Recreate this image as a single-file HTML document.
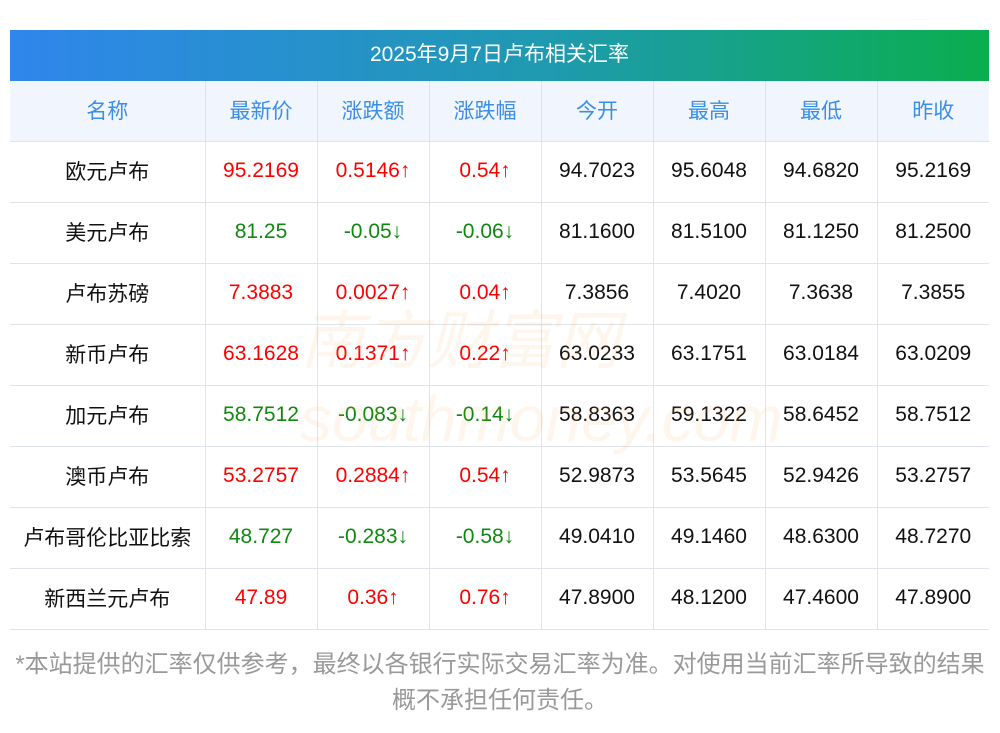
<!DOCTYPE html>
<html><head><meta charset="utf-8">
<style>
body{margin:0;width:1000px;height:733px;background:#fff;overflow:hidden;font-family:"Liberation Sans","Noto Sans CJK SC",sans-serif;position:relative}
#title{position:absolute;left:10px;top:30px;width:979px;height:51px;background:linear-gradient(90deg,#2f86ec,#1f9ab0 55%,#0aae4e);color:#fff;font-size:21px;line-height:49px;text-align:center}
table{position:absolute;left:10px;top:81px;border-collapse:collapse;width:979px;table-layout:fixed}
td,th{border-right:1px solid #dfe4ec;border-bottom:1px solid #dfe4ec;text-align:center;font-size:21px;font-weight:normal;padding:0 0 2px 0;height:58px}
td:last-child,th:last-child{border-right:none}
th{background:#f1f6fe;color:#3a8ee6}
td{color:#111}
.up{color:#f00}.dn{color:#118811}
#note{position:absolute;left:-20px;top:647px;width:1040px;text-align:center;color:#999;font-size:24px;line-height:36px;white-space:nowrap}
#wm{position:absolute;left:300px;top:290px;color:rgba(250,170,100,0.12);font-size:64px;font-style:italic;pointer-events:none}
</style></head><body>
<div id="title">2025年9月7日卢布相关汇率</div>
<table id="t">
<colgroup><col style="width:195px"><col style="width:112px"><col style="width:112px"><col style="width:112px"><col style="width:112px"><col style="width:112px"><col style="width:112px"><col style="width:112px"></colgroup>
<thead><tr>
<th>名称</th>
<th>最新价</th>
<th>涨跌额</th>
<th>涨跌幅</th>
<th>今开</th>
<th>最高</th>
<th>最低</th>
<th>昨收</th>
</tr></thead><tbody id="tb"></tbody></table>
<div id="wm">南方财富网<br>southmoney.com</div>
<div id="note">*本站提供的汇率仅供参考，最终以各银行实际交易汇率为准。对使用当前汇率所导致的结果<br>概不承担任何责任。</div>
<script>
const names=["欧元卢布","美元卢布","卢布苏磅","新币卢布","加元卢布","澳币卢布","卢布哥伦比亚比索","新西兰元卢布"];
const latest=["95.2169","81.25","7.3883","63.1628","58.7512","53.2757","48.727","47.89"];
const change=["0.5146","-0.05","0.0027","0.1371","-0.083","0.2884","-0.283","0.36"];
const changePct=["0.54","-0.06","0.04","0.22","-0.14","0.54","-0.58","0.76"];
const openP=["94.7023","81.1600","7.3856","63.0233","58.8363","52.9873","49.0410","47.8900"];
const highP=["95.6048","81.5100","7.4020","63.1751","59.1322","53.5645","49.1460","48.1200"];
const lowP=["94.6820","81.1250","7.3638","63.0184","58.6452","52.9426","48.6300","47.4600"];
const prevClose=["95.2169","81.2500","7.3855","63.0209","58.7512","53.2757","48.7270","47.8900"];
const tb=document.getElementById('tb');
names.forEach((n,i)=>{
  const up=parseFloat(change[i])>=0, cls=up?'up':'dn', ar=up?'↑':'↓';
  const tr=document.createElement('tr');
  
  
  const cells=[[n,''],[latest[i],cls],[change[i]+ar,cls],[changePct[i]+ar,cls],[openP[i],''],[highP[i],''],[lowP[i],''],[prevClose[i],'']];
  const keys=['name','latest','change','change-pct','open','high','low','prev-close'];
  cells.forEach((c,j)=>{
    const td=document.createElement('td');
    td.textContent=c[0];
    if(c[1])td.className=c[1];
    
    
    tr.appendChild(td);
  });
  tb.appendChild(tr);
});
</script>
</body></html>
